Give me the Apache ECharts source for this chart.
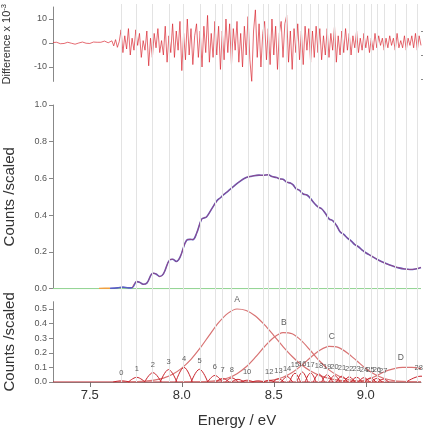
<!DOCTYPE html>
<html><head><meta charset="utf-8">
<script src="https://cdn.jsdelivr.net/npm/echarts@6/dist/echarts.min.js"></script>
<style>html,body{margin:0;padding:0;background:#fff}#c{width:426px;height:431px}</style>
</head><body><div id="c"></div>
<script>
// ---------- DATA ----------
const xTickLabels = [7.5, 8.0, 8.5, 9.0];
const diffTicks = [-10, 0, 10];
const countTicks = [0, 0.2, 0.4, 0.6, 0.8, 1.0];
const compTicks = [0, 0.1, 0.2, 0.3, 0.4, 0.5];

// difference trace (x10^-3), energies 7.30 .. 9.30 step 0.01
const diffStart = 7.30, diffStep = 0.01;
const diffValues = [
 0.2,0.4,0.3,0,-0.3,-0.4,-0.2,0.1,0.3,0.2,
 -0.1,-0.4,-0.5,-0.3,0,0.3,0.4,0.2,-0.1,-0.3,
 -0.2,0.1,0.4,0.5,0.3,0,0.3,0.6,0.8,0.5,
 0.1,-0.6,0.9,-1.2,1.4,-1.8,0.6,
 5.5,-4,3,-2.5,6,-5,2,-3,5.5,-1,4,-6,1,
 -3,5,-9.5,2,-6,4,-2,6,-4,1,
 -5,7,-8,3,-4,8,-6,5,-3,9,
 -11.5,4,-7,10,-5,6,-9,3,8,-6,
 5,-10,7,-4,11.5,-8,4,-6,9,-5,
 7,-11,5,-7,10,-4,8,-9,6,-3,
 9,-8,4,-10,7,-5,11,-7,-16,5,
 13.8,-6,8,-10,4,9,-7,6,-9,10,
 -5,7,-11,4,9,-6,8,11.5,-8,5,
 -11,6,-4,8,-7,5,-9,7,-3,6,
 -8,5,-6,7,-4,6,-7,3,-5,6,
 -6,4,-3,7,-8,3,-5,5,-4,6,
 -3,4,-5,3,-2,5,-4,2,-3,4,
 -2,3,-4,2,-3,4,-2,3,-1,2,
 -3,2,-2,3,-1,2,-3,4,-2,1,
 -2,3,-3,2,-1,3,-2,4,-3,3,-1
];

// total counts (data / fit)
const countE = [7.61,7.65,7.68,7.71,7.73,7.755,7.77,7.79,7.81,7.844,7.86,7.88,7.90,7.935,7.95,7.97,7.99,8.026,8.045,8.06,8.08,8.107,8.12,8.134,8.16,8.19,8.21,8.225,8.25,8.28,8.31,8.35,8.38,8.42,8.44,8.47,8.49,8.515,8.53,8.55,8.57,8.59,8.605,8.62,8.64,8.66,8.68,8.70,8.72,8.74,8.76,8.78,8.80,8.82,8.84,8.86,8.88,8.90,8.92,8.94,8.96,8.98,9.00,9.03,9.06,9.09,9.12,9.15,9.18,9.21,9.24,9.27,9.30];
const countY = [0.002,0.004,0.008,0.004,0.005,0.038,0.035,0.024,0.030,0.084,0.080,0.066,0.080,0.157,0.160,0.148,0.170,0.263,0.268,0.267,0.300,0.377,0.385,0.390,0.430,0.477,0.495,0.510,0.530,0.555,0.580,0.605,0.612,0.618,0.617,0.620,0.610,0.605,0.598,0.595,0.580,0.575,0.565,0.545,0.535,0.515,0.510,0.490,0.465,0.445,0.435,0.410,0.380,0.370,0.345,0.310,0.295,0.275,0.260,0.240,0.228,0.210,0.195,0.178,0.160,0.145,0.132,0.122,0.113,0.107,0.104,0.107,0.115];
const preE = [7.55, 7.58, 7.61];
const preY = [0.001, 0.002, 0.002];

// broad components A-D
const compAE = [7.70,7.80,7.85,7.90,7.95,8.00,8.05,8.10,8.15,8.20,8.25,8.30,8.35,8.40,8.45,8.50,8.55,8.60,8.65,8.70,8.75,8.80,8.85,8.90,8.95,9.00,9.10];
const compAY = [0,0.006,0.013,0.027,0.053,0.095,0.155,0.233,0.321,0.406,0.470,0.500,0.490,0.452,0.391,0.318,0.243,0.175,0.118,0.075,0.044,0.025,0.013,0.006,0.003,0.001,0];
const compBE = [8.00,8.10,8.15,8.20,8.25,8.30,8.35,8.40,8.45,8.50,8.55,8.60,8.65,8.70,8.75,8.80,8.85,8.90,8.95,9.00,9.10];
const compBY = [0,0.001,0.004,0.011,0.027,0.057,0.104,0.170,0.243,0.305,0.338,0.330,0.283,0.214,0.142,0.083,0.043,0.019,0.008,0.003,0];
const compCE = [8.35,8.45,8.50,8.55,8.60,8.65,8.70,8.75,8.80,8.85,8.90,8.95,9.00,9.05,9.10,9.15,9.20,9.25,9.30];
const compCY = [0,0.005,0.014,0.033,0.065,0.112,0.168,0.217,0.244,0.237,0.199,0.146,0.092,0.051,0.024,0.010,0.004,0.001,0];
const compDE = [8.85,8.95,9.00,9.05,9.10,9.15,9.20,9.25,9.30];
const compDY = [0,0.003,0.015,0.038,0.070,0.090,0.100,0.100,0.092];
const compLabels = ['A','B','C','D'];
const compLabelE = [8.30, 8.555, 8.815, 9.19];
const compLabelY = [0.50, 0.338, 0.244, 0.10];

// vibronic peaks 0..28
const peakE = [7.672,7.755,7.843,7.928,8.012,8.096,8.180,8.222,8.272,8.305,8.355,8.415,8.475,8.525,8.572,8.615,8.655,8.700,8.745,8.790,8.830,8.870,8.910,8.950,8.990,9.025,9.060,9.095,9.300];
const peakH = [0.008,0.032,0.064,0.085,0.100,0.087,0.045,0.025,0.028,0.018,0.012,0.008,0.012,0.022,0.038,0.060,0.068,0.062,0.056,0.050,0.045,0.040,0.036,0.033,0.030,0.028,0.025,0.020,0.040];
const peakHalfW = [0.045,0.045,0.045,0.045,0.045,0.045,0.04,0.035,0.035,0.035,0.035,0.035,0.03,0.03,0.03,0.03,0.03,0.03,0.03,0.03,0.03,0.03,0.03,0.03,0.03,0.03,0.03,0.03,0.08];
const peakLabels = ['0','1','2','3','4','5','6','7','8','','10','','12','13','14','15','16','17','18','19','20','21','22','23','24','25','26','27','28'];

// vertical guide lines
const guideE = [7.672,7.755,7.843,7.928,8.012,8.096,8.180,8.222,8.272,8.355,8.44,8.475,8.525,8.572,8.615,8.655,8.70,8.745,8.79,8.83,8.87,8.91,8.95,8.99,9.025,9.06,9.10,9.157,9.22,9.275];

// ---------- CHART ----------
const FONT = 'Liberation Sans, Arial, sans-serif';
const XMIN = 7.3, XMAX = 9.3;
const zip = (a, b) => a.map((v, i) => [v, b[i]]);

const diffData = diffValues.map((v, i) => [+(diffStart + i * diffStep).toFixed(2), v]);

const grids = [
  {left: 53, right: 5, top: 7, height: 74.4, outerBoundsMode: 'none', containLabel: false},
  {left: 53, right: 5, top: 105, height: 183.6, outerBoundsMode: 'none', containLabel: false},
  {left: 53, right: 5, top: 301.7, height: 80.3, outerBoundsMode: 'none', containLabel: false},
  {left: 53, right: 5, top: 4, height: 378, outerBoundsMode: 'none', containLabel: false}
];

function xa(i, show) {
  return {gridIndex: i, type: 'value', min: XMIN, max: XMAX, show: show,
    axisLine: {show: show, lineStyle: {color: '#888', width: 1}},
    axisTick: {show: show, inside: false, length: 5, lineStyle: {color: '#777'}, customValues: xTickLabels},
    axisLabel: {show: show, fontSize: 13, color: '#333', fontFamily: FONT, margin: 7,
      customValues: xTickLabels, formatter: v => v.toFixed(1)},
    splitLine: {show: false}};
}
function ya(i, min, max, ticks, name, nameSize, gap, fmt) {
  return {gridIndex: i, type: 'value', min: min, max: max,
    name: name, nameLocation: 'middle', nameGap: gap, nameRotate: 90,
    nameTextStyle: {fontSize: nameSize, color: '#333', fontFamily: FONT,
      rich: {sup: {fontSize: 7.5, color: '#333', fontFamily: FONT, padding: [0, 0, 6, 0]}}},
    axisLine: {show: true, lineStyle: {color: '#888', width: 1}},
    axisTick: {show: true, inside: false, length: 4, lineStyle: {color: '#888'}, customValues: ticks},
    axisLabel: {fontSize: 9, color: '#555', fontFamily: FONT, margin: 6, customValues: ticks, formatter: fmt},
    splitLine: {show: false}};
}

const series = [];
series.push({type: 'line', xAxisIndex: 3, yAxisIndex: 4, data: [], silent: true, z: 0,
  markLine: {silent: true, symbol: ['none', 'none'], label: {show: false},
    lineStyle: {color: '#e3e3e3', width: 1, type: 'solid'},
    data: guideE.map(e => ({xAxis: e}))}});
series.push({type: 'line', xAxisIndex: 0, yAxisIndex: 0, data: diffData, showSymbol: false,
  lineStyle: {color: '#d8242e', width: 0.8, opacity: 0.85}, z: 3});
series.push({type: 'line', xAxisIndex: 1, yAxisIndex: 2, data: [[XMIN, 0], [XMAX, 0]], showSymbol: false,
  lineStyle: {color: '#96d596', width: 1.3}, z: 2});
series.push({type: 'line', xAxisIndex: 1, yAxisIndex: 2, data: zip(preE, preY), showSymbol: false,
  lineStyle: {color: '#f0a040', width: 1.4}, z: 3});
series.push({type: 'line', xAxisIndex: 1, yAxisIndex: 2, data: zip(countE, countY), showSymbol: false, smooth: 0.4,
  lineStyle: {color: '#5a5fc4', width: 1.6}, z: 3});
series.push({type: 'line', xAxisIndex: 1, yAxisIndex: 2, data: zip(countE, countY).slice(4), showSymbol: false, smooth: 0.4,
  lineStyle: {color: '#d0304a', width: 0.9, opacity: 0.55}, z: 4});
series.push({type: 'line', xAxisIndex: 2, yAxisIndex: 3, data: [[XMIN, 0], [XMAX, 0]], showSymbol: false,
  lineStyle: {color: '#c0262e', width: 1.2}, z: 3});
[[compAE, compAY], [compBE, compBY], [compCE, compCY], [compDE, compDY]].forEach(([e, y]) => {
  series.push({type: 'line', xAxisIndex: 2, yAxisIndex: 3, data: zip(e, y), showSymbol: false, smooth: 0.3,
    lineStyle: {color: '#d87373', width: 1.2}, z: 3});
});
peakE.forEach((c, i) => {
  const w = peakHalfW[i];
  series.push({type: 'line', xAxisIndex: 2, yAxisIndex: 3, showSymbol: false, smooth: 0.4, smoothMonotone: 'x',
    data: [[c - w, 0], [c, peakH[i]], [c + w, 0]],
    lineStyle: {color: '#c8242c', width: 1}, z: 4});
});
const labelStyle = {show: true, position: 'top', distance: 3, formatter: p => p.name, color: '#333', fontFamily: FONT};
series.push({type: 'scatter', xAxisIndex: 2, yAxisIndex: 3, symbolSize: 2, itemStyle: {color: 'rgba(0,0,0,0)'}, z: 6, silent: true,
  data: peakE.map((c, i) => ({value: [Math.min(c, 9.288), peakH[i]], name: peakLabels[i]})).filter(d => d.name !== ''),
  label: Object.assign({}, labelStyle, {fontSize: 7.5}), labelLayout: {hideOverlap: false}});
series.push({type: 'scatter', xAxisIndex: 2, yAxisIndex: 3, symbolSize: 2, itemStyle: {color: 'rgba(0,0,0,0)'}, z: 6, silent: true,
  data: compLabels.map((n, i) => ({value: [compLabelE[i], compLabelY[i]], name: n})),
  label: Object.assign({}, labelStyle, {fontSize: 8.5, distance: 4})});

const option = {
  animation: false,
  backgroundColor: '#fff',
  grid: grids,
  xAxis: [xa(0, false), xa(1, false),
    Object.assign(xa(2, true), {name: 'Energy / eV', nameLocation: 'middle', nameGap: 31,
      nameTextStyle: {fontSize: 15, color: '#333', fontFamily: FONT}}),
    {gridIndex: 3, type: 'value', min: XMIN, max: XMAX, show: false}],
  yAxis: [
    ya(0, -16, 15, diffTicks, 'Difference x 10{sup|-3}', 11, 39, v => String(v)),
    Object.assign(ya(0, -16, 15, [-15, -5, 5], '', 10, 0, () => ''), {axisLine: {show: false},
      axisTick: {show: true, length: 2, lineStyle: {color: '#888'}, customValues: [-15, -5, 5]},
      axisLabel: {show: false}}),
    ya(1, 0, 1, countTicks, 'Counts /scaled', 15, 36, v => v.toFixed(1)),
    ya(2, 0, 0.55, compTicks, 'Counts /scaled', 15, 36, v => v.toFixed(1)),
    {gridIndex: 3, type: 'value', min: 0, max: 1, show: false}
  ],
  series: series
};
const chart = echarts.init(document.getElementById('c'), null, {renderer: 'canvas'});
chart.setOption(option);
</script>
</body></html>
